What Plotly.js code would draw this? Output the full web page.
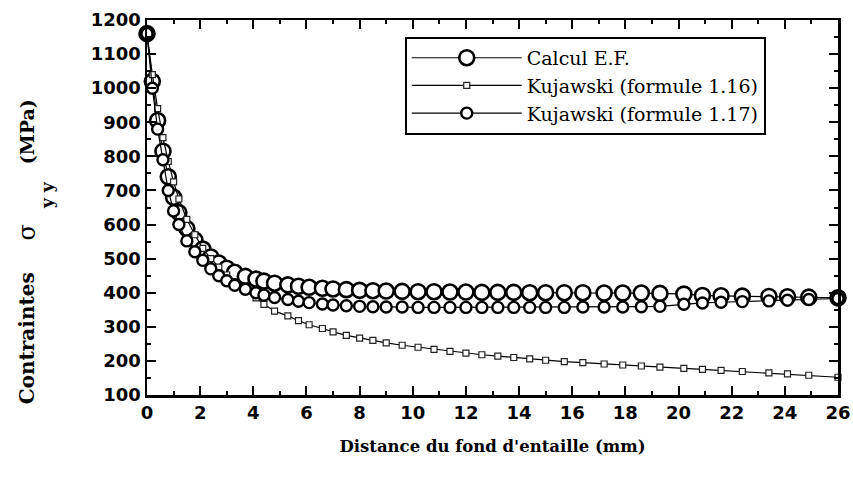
<!DOCTYPE html>
<html>
<head>
<meta charset="utf-8">
<script src="https://cdn.plot.ly/plotly-3.0.1.min.js"></script>
<style>
  html, body { margin: 0; padding: 0; background: #ffffff; }
  #chart { width: 853px; height: 478px; }
</style>
</head>
<body>
<div id="chart"></div>
<script>
// Distance from the notch root (mm)
const distance = [0, 0.2, 0.4, 0.6, 0.8, 1.0, 1.2, 1.5, 1.8, 2.1, 2.4, 2.7, 3.0, 3.3, 3.7, 4.1, 4.4, 4.8, 5.3, 5.7, 6.1, 6.6, 7.0, 7.5, 8.0, 8.5, 9.0, 9.6, 10.2, 10.8, 11.4, 12.0, 12.6, 13.2, 13.8, 14.4, 15.0, 15.7, 16.4, 17.2, 17.9, 18.6, 19.3, 20.2, 20.9, 21.6, 22.4, 23.4, 24.1, 24.9, 26.0];

// Calcul E.F. (MPa)
const calculEF = [1160, 1020, 905, 815, 740, 680, 635, 588, 555, 528, 505, 487, 472, 460, 448, 440, 434, 428, 423, 419, 416, 413, 411, 409, 407, 406, 405, 404, 403, 403, 402, 402, 401, 401, 401, 400, 400, 400, 400, 399, 399, 399, 398, 396, 392, 391, 390, 389, 388, 387, 385];

// Kujawski (formule 1.16) (MPa)
const kujawski116 = [1160, 1040, 940, 855, 785, 725, 675, 615, 570, 530, 500, 475, 452, 432, 405, 385, 366, 346, 332, 318, 306, 295, 285, 275, 267, 260, 253, 246, 240, 234, 228, 223, 218, 214, 210, 206, 202, 198, 195, 191, 188, 185, 182, 178, 175, 172, 169, 165, 162, 158, 152];

// Kujawski (formule 1.17) (MPa)
const kujawski117 = [1160, 1000, 880, 790, 700, 640, 600, 552, 520, 495, 470, 450, 435, 422, 410, 400, 393, 386, 380, 375, 371, 367, 364, 362, 360, 359, 358, 358, 357, 357, 357, 357, 357, 357, 357, 357, 357, 357, 358, 358, 358, 359, 360, 366, 370, 372, 374, 376, 378, 380, 383];

const seriesNames = ['Calcul E.F.', 'Kujawski (formule 1.16)', 'Kujawski (formule 1.17)'];
const xTickVals = [0, 2, 4, 6, 8, 10, 12, 14, 16, 18, 20, 22, 24, 26];
const yTickVals = [100, 200, 300, 400, 500, 600, 700, 800, 900, 1000, 1100, 1200];
const xTitle = "Distance du fond d'entaille (mm)";
const yTitleParts = ['Contraintes', 'σ', 'y y', '(MPa)'];

const lineStyle = { color: '#000000', width: 1.2 };

const traces = [
  {
    x: distance, y: calculEF, name: seriesNames[0],
    type: 'scatter', mode: 'lines+markers', cliponaxis: false,
    line: lineStyle,
    marker: { symbol: 'circle', size: 15, color: '#ffffff', line: { color: '#000000', width: 2.6 } }
  },
  {
    x: distance, y: kujawski116, name: seriesNames[1],
    type: 'scatter', mode: 'lines+markers', cliponaxis: false,
    line: lineStyle,
    marker: { symbol: 'square', size: 6, color: '#ffffff', line: { color: '#222222', width: 1.2 } }
  },
  {
    x: distance, y: kujawski117, name: seriesNames[2],
    type: 'scatter', mode: 'lines+markers', cliponaxis: false,
    line: lineStyle,
    marker: { symbol: 'circle', size: 11, color: '#ffffff', line: { color: '#000000', width: 2.4 } }
  }
];

const tickFont = { family: 'DejaVu Sans, Arial, sans-serif', size: 18, color: '#000000', weight: 'bold' };
const serifBold = 'DejaVu Serif, Times New Roman, serif';

const yTitleAnn = (text, x, y, yanchor, size, weight) => ({
  text: text, xref: 'paper', yref: 'paper', x: x, y: y,
  xanchor: 'center', yanchor: yanchor, textangle: -90, showarrow: false,
  font: { family: serifBold, size: size, color: '#000000', weight: weight }
});

const layout = {
  width: 853, height: 478,
  margin: { l: 147, r: 15, t: 20, b: 83 },
  paper_bgcolor: '#ffffff', plot_bgcolor: '#ffffff',
  showlegend: true,
  legend: {
    x: 0.373, y: 0.955, xanchor: 'left', yanchor: 'top',
    bgcolor: '#ffffff', bordercolor: '#000000', borderwidth: 2,
    font: { family: 'DejaVu Serif, Times New Roman, serif', size: 19, color: '#000000' },
    itemwidth: 110, tracegroupgap: 0
  },
  xaxis: {
    range: [0, 26], tickmode: 'array', tickvals: xTickVals,
    ticks: 'inside', ticklen: 9, tickwidth: 2, tickcolor: '#000000',
    minor: { dtick: 1, ticks: 'inside', ticklen: 4, tickwidth: 2, tickcolor: '#000000' },
    showline: true, linecolor: '#000000', linewidth: 2.5, mirror: 'ticks',
    showgrid: false, zeroline: false,
    tickfont: tickFont,
    title: { text: xTitle, font: { family: serifBold, size: 16.5, color: '#000000', weight: 'bold' }, standoff: 19 }
  },
  yaxis: {
    range: [100, 1200], tickmode: 'array', tickvals: yTickVals,
    ticks: 'inside', ticklen: 9, tickwidth: 2, tickcolor: '#000000',
    minor: { dtick: 50, ticks: 'inside', ticklen: 4, tickwidth: 2, tickcolor: '#000000' },
    showline: true, linecolor: '#000000', linewidth: 2.5, mirror: 'ticks',
    showgrid: false, zeroline: false,
    tickfont: tickFont
  },
  annotations: [
    yTitleAnn(yTitleParts[0], -0.1737, -0.03, 'bottom', 20, 'bold'),
    yTitleAnn(yTitleParts[1], -0.1737, 0.433, 'middle', 24, 'normal'),
    yTitleAnn(yTitleParts[2], -0.145, 0.533, 'middle', 17, 'bold'),
    yTitleAnn(yTitleParts[3], -0.1737, 0.795, 'top', 19, 'bold')
  ]
};

Plotly.newPlot('chart', traces, layout, { displayModeBar: false, staticPlot: true });
</script>
</body>
</html>
